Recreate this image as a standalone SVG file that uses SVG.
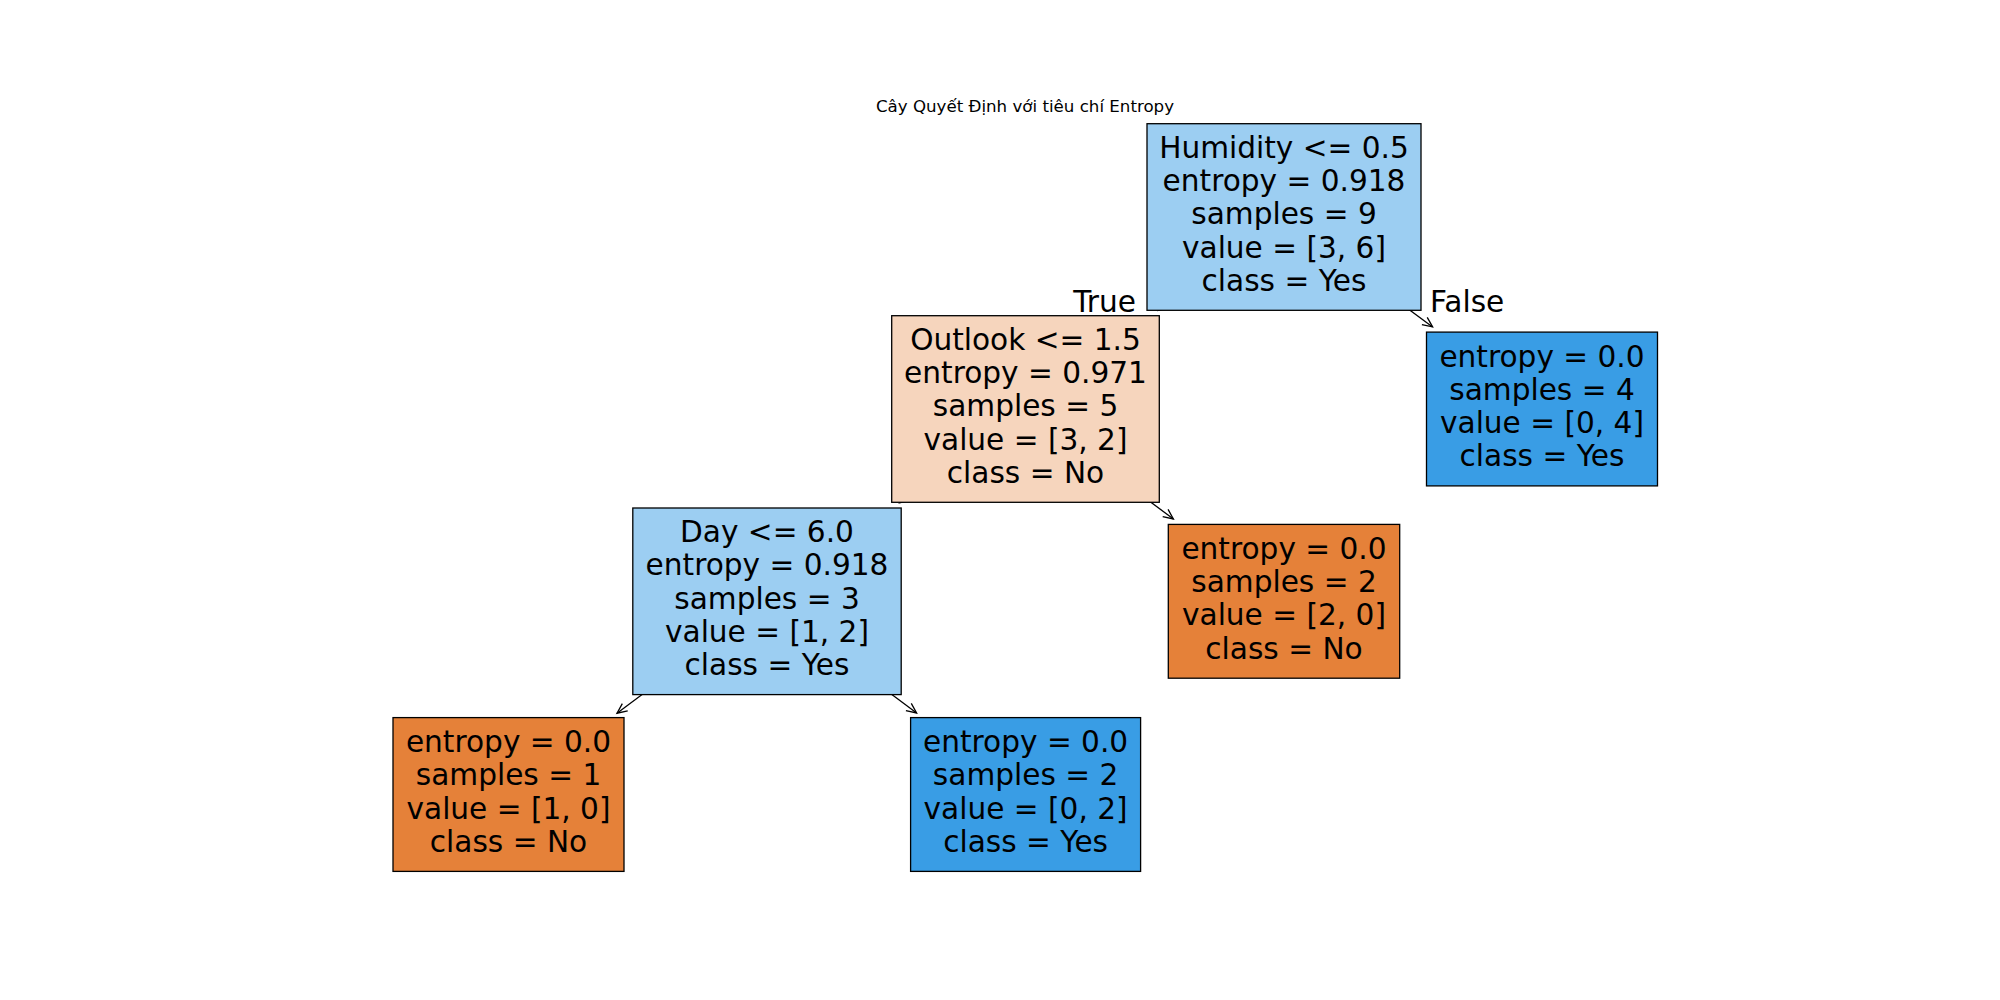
<svg xmlns="http://www.w3.org/2000/svg" width="2000" height="1000" viewBox="0 0 2000 1000">
<style>
  text { font-family: "DejaVu Sans", "Noto Sans", sans-serif; fill: #000; }
  .lbl { font-size: 29.6px; text-anchor: middle; }
  .edge-lbl { font-size: 29.6px; }
  .title { font-size: 16.67px; text-anchor: middle; }
  .box { stroke: #000; stroke-width: 1.3; }
  .blue-l { fill: #9ccef2; }
  .orange-l { fill: #f6d5bd; }
  .blue { fill: #399de5; }
  .orange { fill: #e58139; }
  .conn line { stroke: #000; stroke-width: 1.3; fill: none; marker-end: url(#ah); }
</style>
<defs>
  <marker id="ah" viewBox="-12 -6 14 12" refX="0" refY="0" markerWidth="14" markerHeight="12" markerUnits="userSpaceOnUse" orient="auto" overflow="visible">
    <path d="M-10,-4.5 L0,0 L-10,4.5" fill="none" stroke="#000" stroke-width="1.3"/>
  </marker>
</defs>
<rect x="0" y="0" width="2000" height="1000" fill="#fff"/>
<text class="title" x="1025" y="112">Cây Quyết Định với tiêu chí Entropy</text>

<g id="connectors" class="conn">
  <line x1="1284" y1="217" x2="1158.4" y2="310.3"/>
  <line x1="1284" y1="217" x2="1432.6" y2="326.9"/>
  <line x1="1025.5" y1="409" x2="899.6" y2="502.7"/>
  <line x1="1025.5" y1="409" x2="1173.4" y2="519.0"/>
  <line x1="767" y1="601.3" x2="617" y2="713.2"/>
  <line x1="767" y1="601.3" x2="916.6" y2="713"/>
</g>

<g id="edge-labels">
  <text class="edge-lbl" x="1136" y="312" text-anchor="end">True</text>
  <text class="edge-lbl" x="1430" y="311.5" text-anchor="start">False</text>
</g>

<g id="node-dl">
  <rect class="box orange" x="393" y="717.6" width="231" height="153.8"/>
  <text class="lbl" x="508.5" y="752"><tspan x="508.5">entropy = 0.0</tspan><tspan x="508.5" dy="33.33">samples = 1</tspan><tspan x="508.5" dy="33.33">value = [1, 0]</tspan><tspan x="508.5" dy="33.33">class = No</tspan></text>
</g>
<g id="node-dr">
  <rect class="box blue" x="910.6" y="717.6" width="230" height="153.8"/>
  <text class="lbl" x="1025.6" y="752"><tspan x="1025.6">entropy = 0.0</tspan><tspan x="1025.6" dy="33.33">samples = 2</tspan><tspan x="1025.6" dy="33.33">value = [0, 2]</tspan><tspan x="1025.6" dy="33.33">class = Yes</tspan></text>
</g>
<g id="node-day">
  <rect class="box blue-l" x="632.8" y="508" width="268.4" height="186.6"/>
  <text class="lbl" x="767" y="542.1"><tspan x="767">Day &lt;= 6.0</tspan><tspan x="767" dy="33.33">entropy = 0.918</tspan><tspan x="767" dy="33.33">samples = 3</tspan><tspan x="767" dy="33.33">value = [1, 2]</tspan><tspan x="767" dy="33.33">class = Yes</tspan></text>
</g>
<g id="node-outlook-leaf">
  <rect class="box orange" x="1168.3" y="524.4" width="231.4" height="153.8"/>
  <text class="lbl" x="1284" y="558.8"><tspan x="1284">entropy = 0.0</tspan><tspan x="1284" dy="33.33">samples = 2</tspan><tspan x="1284" dy="33.33">value = [2, 0]</tspan><tspan x="1284" dy="33.33">class = No</tspan></text>
</g>
<g id="node-false-leaf">
  <rect class="box blue" x="1426.5" y="332.1" width="231" height="153.8"/>
  <text class="lbl" x="1542" y="366.5"><tspan x="1542">entropy = 0.0</tspan><tspan x="1542" dy="33.33">samples = 4</tspan><tspan x="1542" dy="33.33">value = [0, 4]</tspan><tspan x="1542" dy="33.33">class = Yes</tspan></text>
</g>
<g id="node-outlook">
  <rect class="box orange-l" x="891.7" y="315.7" width="267.6" height="186.6"/>
  <text class="lbl" x="1025.5" y="349.8"><tspan x="1025.5">Outlook &lt;= 1.5</tspan><tspan x="1025.5" dy="33.33">entropy = 0.971</tspan><tspan x="1025.5" dy="33.33">samples = 5</tspan><tspan x="1025.5" dy="33.33">value = [3, 2]</tspan><tspan x="1025.5" dy="33.33">class = No</tspan></text>
</g>
<g id="node-root">
  <rect class="box blue-l" x="1147" y="123.7" width="274" height="186.6"/>
  <text class="lbl" x="1284" y="157.7"><tspan x="1284">Humidity &lt;= 0.5</tspan><tspan x="1284" dy="33.33">entropy = 0.918</tspan><tspan x="1284" dy="33.33">samples = 9</tspan><tspan x="1284" dy="33.33">value = [3, 6]</tspan><tspan x="1284" dy="33.33">class = Yes</tspan></text>
</g>
</svg>
